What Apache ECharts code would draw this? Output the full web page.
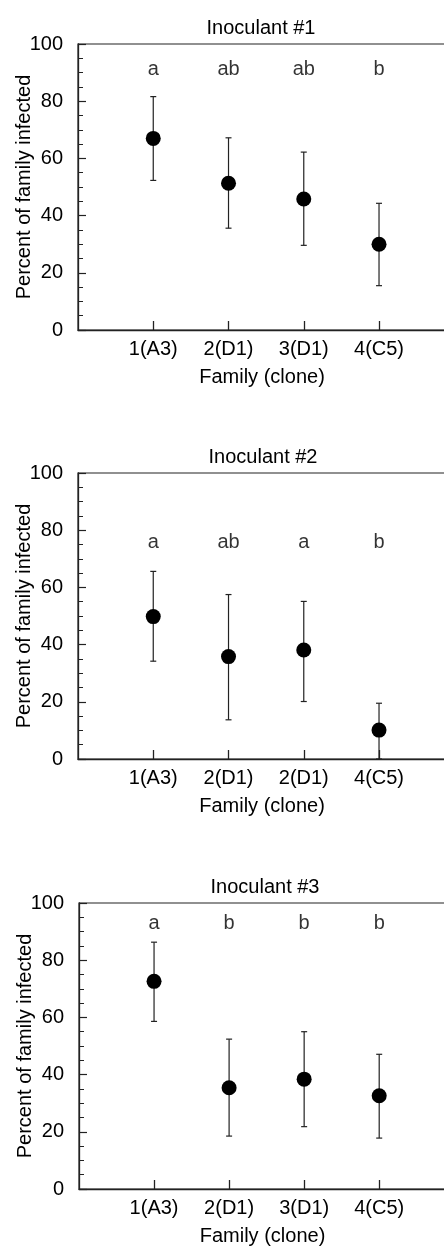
<!DOCTYPE html>
<html lang="en">
<head>
<meta charset="UTF-8">
<title>Percent of family infected</title>
<style>
  * { margin: 0; padding: 0; }
  body { background: #fff; }
  #chart { width: 444px; height: 1249px; }
</style>
</head>
<body>
<div id="chart"></div>
<script src="https://cdn.jsdelivr.net/npm/echarts@6/dist/echarts.min.js"></script>
<script>
// panel data
const titles = ['Inoculant #1', 'Inoculant #2', 'Inoculant #3'];
const families1 = ['1(A3)', '2(D1)', '3(D1)', '4(C5)'];
const families2 = ['1(A3)', '2(D1)', '2(D1)', '4(C5)'];
const families3 = ['1(A3)', '2(D1)', '3(D1)', '4(C5)'];

const mean1 = [67.0, 51.3, 45.8, 30.0];
const low1 = [52.3, 35.6, 29.6, 15.5];
const high1 = [81.6, 67.2, 62.2, 44.3];
const letters1 = ['a', 'ab', 'ab', 'b'];

const mean2 = [49.8, 35.8, 38.1, 10.1];
const low2 = [34.2, 13.7, 20.1, 0];
const high2 = [65.6, 57.5, 55.1, 19.5];
const letters2 = ['a', 'ab', 'a', 'b'];

const mean3 = [72.6, 35.4, 38.4, 32.6];
const low3 = [58.6, 18.5, 21.8, 17.8];
const high3 = [86.3, 52.4, 55.0, 47.1];
const letters3 = ['a', 'b', 'b', 'b'];

const panels = [
  { fam: families1, mean: mean1, low: low1, high: high1, letters: letters1, top: 44, left: 78, titleX: 256, titleTop: 13, letterY: 91 },
  { fam: families2, mean: mean2, low: low2, high: high2, letters: letters2, top: 473, left: 78, titleX: 258, titleTop: 442, letterY: 75.8 },
  { fam: families3, mean: mean3, low: low3, high: high3, letters: letters3, top: 903, left: 79, titleX: 260, titleTop: 872, letterY: 93 }
];

const FONT = '"Liberation Sans", Arial, sans-serif';
const chart = echarts.init(document.getElementById('chart'));

const grid = [], xAxis = [], yAxis = [], series = [], title = [];

panels.forEach(function (p, i) {
  title.push({
    text: titles[i],
    left: p.titleX,
    top: p.titleTop,
    textAlign: 'center',
    textStyle: { fontFamily: FONT, fontSize: 20, fontWeight: 'normal', color: '#000' }
  });
  grid.push({
    left: p.left, right: -2, top: p.top, height: 286,
    outerBoundsMode: 'none', containLabel: false,
    show: true, borderColor: '#222', borderWidth: 1.2, backgroundColor: 'transparent'
  });
  xAxis.push({
    type: 'value', gridIndex: i, min: 0, max: 4.89,
    name: 'Family (clone)', nameLocation: 'middle', nameGap: 37, nameMoveOverlap: false,
    nameTextStyle: { fontFamily: FONT, fontSize: 20, color: '#000' },
    axisLine: { show: true, onZero: false, lineStyle: { color: '#222', width: 1.3 } },
    axisTick: { show: true, inside: true, length: 9, customValues: [1, 2, 3, 4], lineStyle: { color: '#222', width: 1.3 } },
    axisLabel: {
      customValues: [1, 2, 3, 4], margin: 9,
      fontFamily: FONT, fontSize: 20, color: '#000',
      formatter: function (v) { return p.fam[Math.round(v) - 1] || ''; }
    },
    splitLine: { show: false }
  });
  yAxis.push({
    type: 'value', gridIndex: i, min: 0, max: 100, interval: 20,
    name: 'Percent of family infected', nameLocation: 'middle', nameGap: 44, nameRotate: 90,
    nameMoveOverlap: false,
    nameTextStyle: { fontFamily: FONT, fontSize: 20, color: '#000' },
    axisLine: { show: true, lineStyle: { color: '#222', width: 1.3 } },
    axisTick: { show: true, inside: true, length: 8, lineStyle: { color: '#222', width: 1.2 } },
    minorTick: { show: true, splitNumber: 4, length: 5, lineStyle: { color: '#222', width: 1 } },
    axisLabel: { margin: 15, fontFamily: FONT, fontSize: 20, color: '#000' },
    splitLine: { show: false }
  });

  const xs = p.fam.map(function (_, k) { return k + 1; });

  // error bars drawn through the axis scale
  series.push({
    type: 'custom', xAxisIndex: i, yAxisIndex: i, silent: true,
    data: xs.map(function (x, k) { return [x, p.low[k], p.high[k]]; }),
    renderItem: function (params, api) {
      const lo = api.coord([api.value(0), api.value(1)]);
      const hi = api.coord([api.value(0), api.value(2)]);
      const cap = 3;
      const style = { stroke: '#222', lineWidth: 1.2 };
      return {
        type: 'group',
        children: [
          { type: 'line', shape: { x1: lo[0], y1: lo[1], x2: hi[0], y2: hi[1] }, style: style },
          { type: 'line', shape: { x1: lo[0] - cap, y1: lo[1], x2: lo[0] + cap, y2: lo[1] }, style: style },
          { type: 'line', shape: { x1: hi[0] - cap, y1: hi[1], x2: hi[0] + cap, y2: hi[1] }, style: style }
        ]
      };
    }
  });

  // means
  series.push({
    type: 'scatter', xAxisIndex: i, yAxisIndex: i, silent: true,
    symbol: 'circle', symbolSize: 15,
    itemStyle: { color: '#000', opacity: 1 },
    data: xs.map(function (x, k) { return [x, p.mean[k]]; })
  });

  // significance letters
  series.push({
    type: 'scatter', xAxisIndex: i, yAxisIndex: i, silent: true,
    symbolSize: 1, itemStyle: { color: 'transparent' },
    label: {
      show: true, position: 'inside', fontFamily: FONT, fontSize: 20, color: '#000',
      formatter: function (d) { return p.letters[d.dataIndex]; }
    },
    data: xs.map(function (x) { return [x, p.letterY]; })
  });
});

chart.setOption({
  backgroundColor: '#fff',
  animation: false,
  title: title,
  grid: grid,
  xAxis: xAxis,
  yAxis: yAxis,
  series: series
});
</script>
</body>
</html>
